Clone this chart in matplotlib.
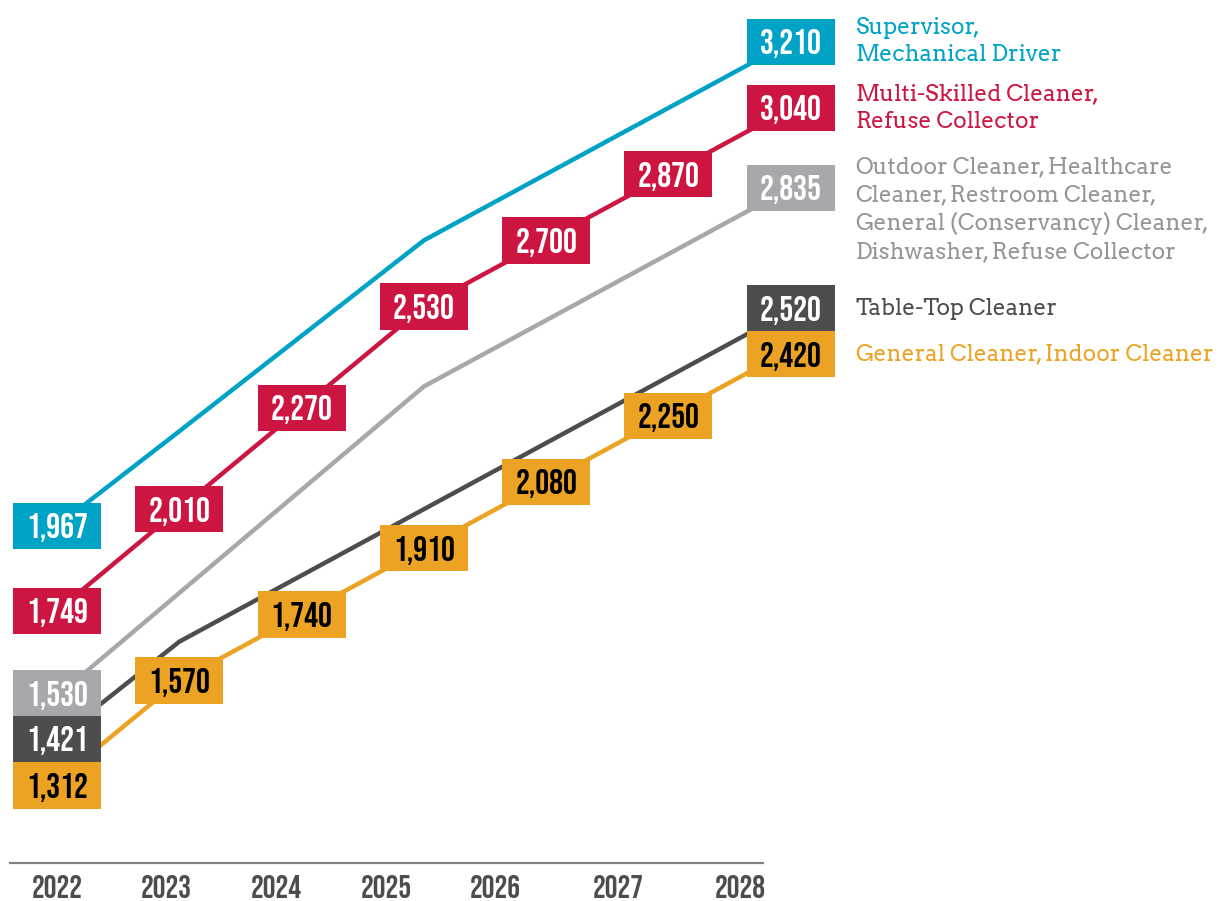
import matplotlib
matplotlib.use("Agg")
import matplotlib.pyplot as plt
from matplotlib.patches import Rectangle

years = ["2022", "2023", "2024", "2025", "2026", "2027", "2028"]

supervisor = [1967, 2210, 2455, 2700, 2870, 3040, 3210]
multi_skilled = [1749, 2010, 2270, 2530, 2700, 2870, 3040]
outdoor = [1530, 1795, 2060, 2325, 2495, 2665, 2835]
table_top = [1421, 1670, 1840, 2010, 2180, 2350, 2520]
general = [1312, 1570, 1740, 1910, 2080, 2250, 2420]

series_labels = [
    "Supervisor,\nMechanical Driver",
    "Multi-Skilled Cleaner,\nRefuse Collector",
    "Outdoor Cleaner, Healthcare\nCleaner, Restroom Cleaner,\nGeneral (Conservancy) Cleaner,\nDishwasher, Refuse Collector",
    "Table-Top Cleaner",
    "General Cleaner, Indoor Cleaner",
]

CYAN = "#00a3c6"
RED = "#cc1641"
GRAY = "#a7a8ab"
DARK = "#4d4d4f"
ORANGE = "#eca323"

NUM_FONT = ["Bebas Neue", "DejaVu Sans"]
LBL_FONT = ["Arvo", "DejaVu Serif"]

# (values, line colour, box colour, number colour, label colour, indices that get a box)
series = [
    (supervisor, CYAN, CYAN, "white", CYAN, [0, 6]),
    (multi_skilled, RED, RED, "white", RED, [0, 1, 2, 3, 4, 5, 6]),
    (outdoor, GRAY, GRAY, "white", "#939598", [0, 6]),
    (table_top, DARK, DARK, "white", DARK, [0, 6]),
    (general, ORANGE, ORANGE, "black", ORANGE, [0, 1, 2, 3, 4, 5, 6]),
]

# small nudges so the stacked boxes sit edge to edge (value units)
nudge = {(2, 0): 8, (4, 0): -11, (3, 6): 5, (4, 6): -12}
# vertical offset of the side labels (value units)
label_dy = [0, 0, -56, 0, 0]

fig = plt.figure(figsize=(12.28, 9.01), dpi=100)
ax = fig.add_axes([10 / 1228, 38 / 901, 753 / 1228, 863 / 901])
ax.set_xlim(-0.384, 5.773)
ax.set_ylim(1102, 3317)

x = list(range(len(years)))
BOX_W, BOX_H = 0.72, 119

for k, (vals, lc, bc, nc, tc, idx) in enumerate(series):
    ax.plot(x, vals, color=lc, lw=3.2, solid_joinstyle="miter",
            clip_on=False, zorder=2)
    for i in idx:
        yc = vals[i] + nudge.get((k, i), 0)
        ax.add_patch(Rectangle((i - BOX_W / 2, yc - BOX_H / 2), BOX_W, BOX_H,
                               facecolor=bc, edgecolor="none",
                               clip_on=False, zorder=5 + k))
        ax.text(i, yc, f"{vals[i]:,}", ha="center", va="center_baseline",
                color=nc, fontsize=25, family=NUM_FONT,
                zorder=10 + k, clip_on=False)
    ax.text(6.53, vals[-1] + nudge.get((k, 6), 0) + label_dy[k],
            series_labels[k], ha="left", va="center", color=tc,
            fontsize=16.3, family=LBL_FONT, linespacing=1.32, clip_on=False)

for s in ["top", "right", "left"]:
    ax.spines[s].set_visible(False)
ax.spines["bottom"].set_color("#808080")
ax.spines["bottom"].set_linewidth(1.6)
ax.set_yticks([])
ax.set_xticks([0, 0.89, 1.79, 2.69, 3.58, 4.59, 5.59])
ax.set_xticklabels(years)
ax.tick_params(axis="x", length=0, pad=9, colors=DARK)
for t in ax.get_xticklabels():
    t.set_family(NUM_FONT)
    t.set_fontsize(23)

fig.savefig("out.png", dpi=100)
